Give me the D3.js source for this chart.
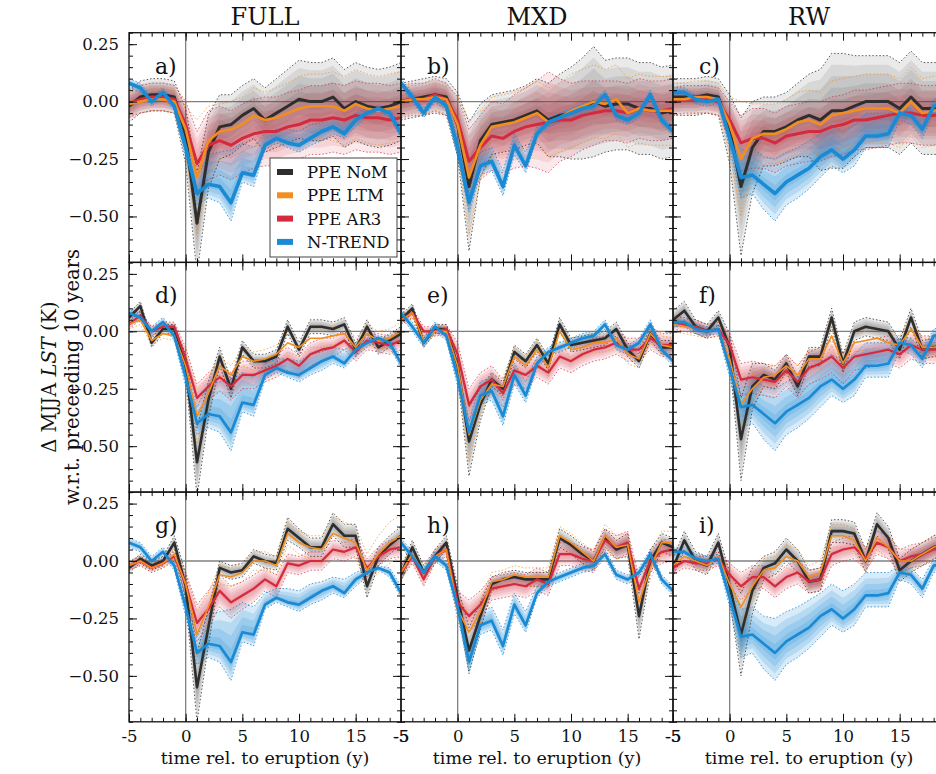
<!DOCTYPE html>
<html>
<head>
<meta charset="utf-8">
<script src="https://cdn.jsdelivr.net/npm/d3@7"></script>
<style>
  body { margin: 0; background: #fff; }
  svg { display: block; font-family: "DejaVu Serif", serif; }
</style>
</head>
<body>
<svg id="chart"></svg>
<script>
// figure size
const viewWidth = 936;
const viewHeight = 774;

// years relative to eruption
const years = [-5, -4, -3, -2, -1, 0, 1, 2, 3, 4, 5, 6, 7, 8, 9, 10, 11, 12, 13, 14, 15, 16, 17, 18, 19];
const columns = ["FULL", "MXD", "RW"];
const seriesNames = ["PPE NoM", "PPE LTM", "PPE AR3", "N-TREND"];
const xTicks = [-5, 0, 5, 10, 15];
const yTicks = [-0.5, -0.25, 0, 0.25];

// N-TREND reconstruction, one per column (median, lower, upper)
const ntFull   = [0.08, 0.06, 0.00, 0.04, -0.02, -0.20, -0.40, -0.36, -0.37, -0.44, -0.31, -0.32, -0.19, -0.16, -0.18, -0.19, -0.16, -0.13, -0.11, -0.14, -0.08, -0.05, -0.03, -0.05, -0.14];
const ntFullLo = [0.06, 0.04, -0.02, 0.02, -0.04, -0.24, -0.45, -0.42, -0.44, -0.52, -0.35, -0.37, -0.21, -0.18, -0.20, -0.22, -0.19, -0.17, -0.14, -0.16, -0.11, -0.07, -0.04, -0.07, -0.16];
const ntFullHi = [0.10, 0.08, 0.02, 0.06, 0.00, -0.15, -0.33, -0.23, -0.22, -0.21, -0.18, -0.20, -0.14, -0.12, -0.12, -0.13, -0.10, -0.09, -0.07, -0.08, -0.05, -0.03, -0.02, -0.03, -0.11];
const ntMxd    = [0.08, 0.02, -0.05, 0.02, -0.02, -0.20, -0.44, -0.28, -0.26, -0.37, -0.19, -0.28, -0.14, -0.09, -0.07, -0.05, -0.03, -0.02, 0.03, -0.06, -0.08, -0.05, 0.03, -0.08, -0.13];
const ntMxdLo  = [0.06, 0.00, -0.07, 0.00, -0.04, -0.24, -0.48, -0.32, -0.30, -0.41, -0.23, -0.31, -0.16, -0.11, -0.09, -0.07, -0.05, -0.04, 0.01, -0.08, -0.10, -0.07, 0.01, -0.10, -0.15];
const ntMxdHi  = [0.10, 0.04, -0.03, 0.04, 0.00, -0.16, -0.39, -0.22, -0.20, -0.30, -0.14, -0.22, -0.11, -0.07, -0.05, -0.03, -0.01, 0.00, 0.05, -0.04, -0.06, -0.03, 0.05, -0.06, -0.11];
const ntRw     = [0.04, 0.04, 0.01, 0.00, 0.01, -0.16, -0.33, -0.32, -0.36, -0.40, -0.35, -0.32, -0.29, -0.24, -0.21, -0.25, -0.21, -0.15, -0.15, -0.14, -0.05, -0.06, -0.12, -0.02, -0.01];
const ntRwLo   = [0.02, 0.02, -0.01, -0.02, -0.01, -0.20, -0.42, -0.40, -0.47, -0.52, -0.45, -0.42, -0.38, -0.33, -0.28, -0.31, -0.28, -0.20, -0.20, -0.20, -0.08, -0.10, -0.16, -0.05, -0.04];
const ntRwHi   = [0.06, 0.06, 0.03, 0.02, 0.03, -0.12, -0.21, -0.20, -0.24, -0.25, -0.22, -0.20, -0.17, -0.14, -0.10, -0.13, -0.10, -0.05, -0.05, -0.05, -0.02, -0.03, -0.08, 0.01, 0.02];

// PPE ensembles: median and envelope half width, per panel
const nomA   = [-0.02, 0.02, 0.03, 0.03, 0.02, -0.15, -0.53, -0.22, -0.11, -0.10, -0.06, -0.03, -0.08, -0.05, -0.02, 0.01, 0.00, 0.00, 0.02, -0.03, 0.00, -0.02, -0.03, -0.02, 0.00];
const nomSdA = [0.07, 0.07, 0.07, 0.07, 0.07, 0.12, 0.22, 0.16, 0.14, 0.13, 0.13, 0.13, 0.14, 0.15, 0.16, 0.17, 0.17, 0.17, 0.17, 0.17, 0.17, 0.17, 0.17, 0.17, 0.17];
const ltmA   = [-0.01, 0.00, 0.01, 0.01, 0.00, -0.12, -0.33, -0.17, -0.13, -0.12, -0.10, -0.06, -0.08, -0.07, -0.05, -0.03, -0.02, -0.02, -0.02, -0.04, -0.01, -0.03, -0.04, -0.03, -0.02];
const ltmSdA = [0.05, 0.05, 0.05, 0.05, 0.05, 0.10, 0.25, 0.15, 0.12, 0.12, 0.12, 0.12, 0.12, 0.13, 0.13, 0.14, 0.14, 0.14, 0.15, 0.15, 0.15, 0.15, 0.15, 0.15, 0.15];
const ar3A   = [-0.01, 0.01, 0.02, 0.02, 0.01, -0.10, -0.27, -0.19, -0.17, -0.19, -0.16, -0.14, -0.13, -0.13, -0.11, -0.10, -0.08, -0.08, -0.07, -0.08, -0.06, -0.07, -0.07, -0.08, -0.07];
const ar3SdA = [0.06, 0.06, 0.06, 0.06, 0.06, 0.10, 0.14, 0.15, 0.15, 0.15, 0.15, 0.15, 0.15, 0.15, 0.15, 0.15, 0.15, 0.15, 0.15, 0.15, 0.15, 0.15, 0.15, 0.15, 0.15];

const nomB   = [0.00, 0.01, 0.02, 0.03, 0.02, -0.10, -0.37, -0.17, -0.10, -0.09, -0.08, -0.06, -0.04, -0.08, -0.06, -0.05, -0.03, 0.00, -0.02, -0.01, -0.01, -0.03, -0.03, -0.05, -0.04];
const nomSdB = [0.08, 0.08, 0.08, 0.08, 0.08, 0.14, 0.28, 0.16, 0.13, 0.13, 0.13, 0.13, 0.14, 0.16, 0.18, 0.20, 0.22, 0.24, 0.20, 0.20, 0.20, 0.20, 0.20, 0.20, 0.20];
const ltmB   = [0.00, 0.01, 0.01, 0.02, 0.01, -0.10, -0.33, -0.19, -0.11, -0.10, -0.09, -0.07, -0.05, -0.09, -0.07, -0.04, -0.02, 0.00, -0.01, 0.01, -0.05, -0.03, -0.04, -0.04, -0.04];
const ltmSdB = [0.06, 0.06, 0.06, 0.06, 0.06, 0.12, 0.25, 0.15, 0.13, 0.13, 0.13, 0.13, 0.14, 0.15, 0.15, 0.16, 0.16, 0.16, 0.15, 0.15, 0.15, 0.15, 0.15, 0.15, 0.15];
const ar3B   = [0.00, 0.01, 0.01, 0.03, 0.01, -0.08, -0.26, -0.20, -0.15, -0.16, -0.13, -0.11, -0.10, -0.09, -0.08, -0.08, -0.06, -0.05, -0.04, -0.04, -0.05, -0.03, -0.04, -0.04, -0.03];
const ar3SdB = [0.07, 0.07, 0.07, 0.07, 0.07, 0.10, 0.14, 0.14, 0.15, 0.15, 0.16, 0.17, 0.19, 0.22, 0.18, 0.16, 0.15, 0.14, 0.13, 0.13, 0.13, 0.13, 0.13, 0.13, 0.13];

const nomC   = [0.02, 0.02, 0.02, 0.03, 0.02, -0.12, -0.37, -0.20, -0.13, -0.13, -0.11, -0.08, -0.06, -0.08, -0.04, -0.04, -0.02, 0.00, 0.00, 0.00, -0.03, 0.02, -0.03, -0.03, -0.03];
const nomSdC = [0.08, 0.08, 0.08, 0.08, 0.08, 0.15, 0.30, 0.20, 0.15, 0.15, 0.15, 0.16, 0.18, 0.22, 0.25, 0.25, 0.22, 0.20, 0.20, 0.20, 0.20, 0.20, 0.20, 0.20, 0.20];
const ltmC   = [0.01, 0.01, 0.02, 0.02, 0.01, -0.10, -0.25, -0.16, -0.14, -0.14, -0.12, -0.09, -0.08, -0.10, -0.06, -0.05, -0.04, -0.03, -0.03, -0.03, -0.05, 0.00, -0.05, -0.04, -0.03];
const ltmSdC = [0.07, 0.07, 0.07, 0.07, 0.07, 0.12, 0.25, 0.15, 0.13, 0.13, 0.13, 0.13, 0.13, 0.14, 0.15, 0.15, 0.15, 0.15, 0.15, 0.15, 0.15, 0.15, 0.15, 0.15, 0.15];
const ar3C   = [0.00, 0.01, 0.01, 0.01, 0.00, -0.08, -0.18, -0.16, -0.16, -0.18, -0.15, -0.14, -0.13, -0.13, -0.11, -0.10, -0.08, -0.08, -0.07, -0.06, -0.05, -0.05, -0.06, -0.06, -0.05];
const ar3SdC = [0.06, 0.06, 0.06, 0.06, 0.06, 0.08, 0.12, 0.13, 0.13, 0.13, 0.13, 0.13, 0.13, 0.13, 0.13, 0.13, 0.13, 0.13, 0.13, 0.13, 0.13, 0.13, 0.13, 0.13, 0.13];

const nomD   = [0.06, 0.11, -0.05, 0.01, 0.01, -0.15, -0.57, -0.30, -0.11, -0.25, -0.07, -0.13, -0.13, -0.11, 0.02, -0.08, 0.02, 0.02, 0.01, 0.03, -0.08, 0.02, -0.07, -0.04, -0.01];
const nomSdD = [0.02, 0.02, 0.02, 0.02, 0.02, 0.05, 0.15, 0.08, 0.04, 0.04, 0.03, 0.03, 0.03, 0.03, 0.03, 0.03, 0.03, 0.03, 0.03, 0.03, 0.03, 0.03, 0.03, 0.03, 0.03];
const ltmD   = [0.03, 0.05, -0.04, -0.01, -0.02, -0.15, -0.37, -0.27, -0.15, -0.19, -0.11, -0.13, -0.12, -0.10, -0.05, -0.07, -0.03, -0.03, -0.02, -0.01, -0.07, -0.01, -0.04, -0.03, 0.00];
const ltmSdD = [0.02, 0.02, 0.02, 0.02, 0.02, 0.05, 0.12, 0.07, 0.04, 0.04, 0.04, 0.04, 0.04, 0.04, 0.04, 0.04, 0.04, 0.04, 0.04, 0.04, 0.04, 0.04, 0.04, 0.04, 0.04];
const ar3D   = [0.03, 0.07, 0.00, 0.02, 0.02, -0.12, -0.29, -0.24, -0.20, -0.24, -0.19, -0.19, -0.17, -0.15, -0.12, -0.15, -0.10, -0.08, -0.07, -0.04, -0.09, -0.04, -0.05, -0.06, -0.04];
const ar3SdD = [0.02, 0.02, 0.02, 0.02, 0.02, 0.05, 0.06, 0.06, 0.06, 0.06, 0.06, 0.06, 0.05, 0.05, 0.05, 0.05, 0.05, 0.05, 0.04, 0.04, 0.04, 0.04, 0.04, 0.04, 0.04];

const nomE   = [0.05, 0.10, -0.05, 0.01, 0.01, -0.15, -0.48, -0.32, -0.21, -0.25, -0.09, -0.13, -0.06, -0.14, 0.03, -0.06, -0.05, -0.04, -0.03, 0.01, -0.08, -0.13, -0.01, -0.07, -0.07];
const nomSdE = [0.02, 0.02, 0.02, 0.02, 0.02, 0.05, 0.15, 0.07, 0.03, 0.03, 0.03, 0.03, 0.03, 0.03, 0.03, 0.03, 0.03, 0.03, 0.03, 0.03, 0.03, 0.03, 0.03, 0.03, 0.03];
const ltmE   = [0.05, 0.08, -0.04, 0.00, 0.00, -0.15, -0.45, -0.30, -0.23, -0.24, -0.11, -0.15, -0.08, -0.16, 0.00, -0.08, -0.07, -0.05, -0.05, -0.03, -0.10, -0.12, -0.01, -0.06, -0.07];
const ltmSdE = [0.02, 0.02, 0.02, 0.02, 0.02, 0.05, 0.12, 0.06, 0.04, 0.04, 0.04, 0.04, 0.04, 0.04, 0.04, 0.04, 0.04, 0.04, 0.04, 0.04, 0.04, 0.04, 0.04, 0.04, 0.04];
const ar3E   = [0.05, 0.08, 0.00, 0.00, 0.01, -0.10, -0.32, -0.24, -0.21, -0.27, -0.17, -0.19, -0.15, -0.18, -0.11, -0.13, -0.10, -0.08, -0.07, -0.05, -0.08, -0.08, -0.03, -0.06, -0.06];
const ar3SdE = [0.02, 0.02, 0.02, 0.02, 0.02, 0.05, 0.07, 0.06, 0.06, 0.06, 0.06, 0.06, 0.05, 0.05, 0.05, 0.05, 0.05, 0.05, 0.05, 0.05, 0.05, 0.05, 0.05, 0.05, 0.05];

const nomF   = [0.05, 0.09, 0.02, 0.00, 0.06, -0.07, -0.47, -0.24, -0.19, -0.21, -0.14, -0.24, -0.11, -0.11, 0.06, -0.14, 0.00, 0.02, 0.01, 0.00, -0.08, 0.06, -0.08, -0.07, -0.06];
const nomSdF = [0.04, 0.04, 0.03, 0.03, 0.03, 0.06, 0.18, 0.10, 0.05, 0.04, 0.04, 0.04, 0.04, 0.04, 0.04, 0.04, 0.04, 0.04, 0.04, 0.04, 0.04, 0.04, 0.04, 0.04, 0.04];
const ltmF   = [0.03, 0.02, 0.01, 0.00, 0.01, -0.12, -0.32, -0.25, -0.20, -0.19, -0.15, -0.19, -0.12, -0.12, -0.02, -0.14, -0.05, -0.04, -0.03, -0.05, -0.06, 0.01, -0.07, -0.07, -0.06];
const ltmSdF = [0.03, 0.03, 0.03, 0.03, 0.03, 0.05, 0.10, 0.06, 0.04, 0.04, 0.04, 0.04, 0.04, 0.04, 0.04, 0.04, 0.04, 0.04, 0.04, 0.04, 0.04, 0.04, 0.04, 0.04, 0.04];
const ar3F   = [0.04, 0.03, 0.02, 0.00, 0.01, -0.06, -0.21, -0.20, -0.21, -0.22, -0.17, -0.22, -0.16, -0.14, -0.11, -0.16, -0.11, -0.10, -0.09, -0.08, -0.10, -0.06, -0.08, -0.08, -0.08];
const ar3SdF = [0.03, 0.03, 0.03, 0.03, 0.03, 0.05, 0.07, 0.07, 0.07, 0.07, 0.07, 0.07, 0.07, 0.07, 0.07, 0.07, 0.06, 0.06, 0.06, 0.06, 0.06, 0.06, 0.06, 0.06, 0.06];

const nomG   = [-0.03, 0.01, -0.02, 0.00, 0.08, -0.11, -0.55, -0.29, -0.03, -0.05, -0.04, 0.02, 0.00, -0.01, 0.14, 0.10, 0.06, 0.06, 0.16, 0.11, 0.11, -0.11, 0.02, 0.07, 0.11];
const nomSdG = [0.02, 0.02, 0.02, 0.02, 0.03, 0.06, 0.15, 0.08, 0.03, 0.03, 0.03, 0.03, 0.03, 0.03, 0.05, 0.04, 0.04, 0.04, 0.05, 0.05, 0.05, 0.05, 0.04, 0.04, 0.04];
const ltmG   = [-0.02, 0.00, -0.03, -0.01, 0.03, -0.10, -0.32, -0.20, -0.06, -0.07, -0.05, 0.00, 0.00, -0.02, 0.12, 0.08, 0.06, 0.05, 0.12, 0.10, 0.08, -0.04, 0.03, 0.08, 0.11];
const ltmSdG = [0.02, 0.02, 0.02, 0.02, 0.02, 0.05, 0.10, 0.06, 0.04, 0.04, 0.04, 0.04, 0.04, 0.04, 0.05, 0.05, 0.05, 0.06, 0.07, 0.07, 0.07, 0.07, 0.08, 0.09, 0.09];
const ar3G   = [-0.02, 0.00, -0.03, -0.01, 0.02, -0.10, -0.27, -0.21, -0.13, -0.18, -0.15, -0.12, -0.08, -0.11, -0.01, -0.02, 0.00, 0.00, 0.05, 0.04, 0.06, -0.03, 0.02, 0.05, 0.06];
const ar3SdG = [0.02, 0.02, 0.02, 0.02, 0.02, 0.05, 0.08, 0.08, 0.07, 0.07, 0.06, 0.06, 0.05, 0.05, 0.04, 0.04, 0.04, 0.04, 0.04, 0.04, 0.04, 0.04, 0.04, 0.04, 0.04];

const nomH   = [-0.06, 0.06, -0.05, 0.02, 0.08, -0.16, -0.39, -0.24, -0.10, -0.08, -0.07, -0.08, -0.08, -0.08, 0.10, 0.07, 0.03, 0.00, 0.10, 0.05, 0.07, -0.24, 0.00, 0.08, 0.06];
const nomSdH = [0.03, 0.03, 0.03, 0.03, 0.03, 0.05, 0.10, 0.06, 0.03, 0.03, 0.03, 0.03, 0.03, 0.03, 0.04, 0.04, 0.04, 0.04, 0.04, 0.04, 0.05, 0.10, 0.05, 0.04, 0.04];
const ltmH   = [-0.05, 0.03, -0.05, 0.02, 0.05, -0.21, -0.31, -0.22, -0.09, -0.08, -0.06, -0.07, -0.07, -0.07, 0.11, 0.08, 0.04, 0.00, 0.11, 0.06, 0.07, -0.18, -0.03, 0.08, 0.08];
const ltmSdH = [0.03, 0.03, 0.03, 0.03, 0.03, 0.05, 0.08, 0.05, 0.04, 0.04, 0.04, 0.04, 0.04, 0.04, 0.04, 0.04, 0.04, 0.04, 0.05, 0.05, 0.05, 0.05, 0.05, 0.05, 0.05];
const ar3H   = [-0.05, 0.02, -0.08, 0.02, 0.05, -0.18, -0.24, -0.19, -0.12, -0.11, -0.10, -0.11, -0.08, -0.10, 0.03, 0.03, 0.01, 0.00, 0.09, 0.06, 0.08, -0.12, 0.00, 0.04, 0.05];
const ar3SdH = [0.03, 0.03, 0.03, 0.03, 0.03, 0.05, 0.07, 0.06, 0.05, 0.05, 0.05, 0.05, 0.05, 0.05, 0.05, 0.05, 0.05, 0.05, 0.05, 0.05, 0.05, 0.05, 0.05, 0.05, 0.05];

const nomI   = [-0.03, 0.09, 0.00, -0.02, 0.08, -0.11, -0.32, -0.13, -0.03, -0.01, 0.05, 0.00, -0.09, -0.08, 0.13, 0.13, 0.12, 0.00, 0.16, 0.10, -0.04, 0.00, 0.03, 0.06, 0.08];
const nomSdI = [0.04, 0.04, 0.04, 0.04, 0.04, 0.06, 0.18, 0.10, 0.05, 0.05, 0.05, 0.05, 0.05, 0.05, 0.05, 0.05, 0.05, 0.05, 0.05, 0.05, 0.05, 0.05, 0.05, 0.05, 0.05];
const ltmI   = [-0.02, 0.02, 0.00, -0.02, 0.02, -0.10, -0.20, -0.11, -0.04, -0.03, 0.02, 0.00, -0.07, -0.05, 0.11, 0.11, 0.09, 0.00, 0.10, 0.06, 0.00, 0.00, 0.03, 0.06, 0.08];
const ltmSdI = [0.03, 0.03, 0.03, 0.03, 0.03, 0.05, 0.07, 0.05, 0.05, 0.05, 0.05, 0.05, 0.05, 0.05, 0.05, 0.05, 0.05, 0.05, 0.05, 0.05, 0.05, 0.05, 0.05, 0.05, 0.05];
const ar3I   = [-0.03, 0.00, -0.01, -0.01, 0.01, -0.06, -0.11, -0.07, -0.07, -0.11, -0.07, -0.05, -0.09, -0.08, 0.03, 0.05, 0.06, 0.01, 0.08, 0.06, 0.00, 0.02, 0.03, 0.05, 0.06];
const ar3SdI = [0.03, 0.03, 0.03, 0.03, 0.03, 0.05, 0.06, 0.05, 0.05, 0.05, 0.05, 0.05, 0.05, 0.05, 0.05, 0.05, 0.05, 0.05, 0.05, 0.05, 0.05, 0.05, 0.05, 0.05, 0.05];

// colors
const colNoM = "#2e2e2e";
const colLTM = "#f28e1e";
const colAR3 = "#d42a3e";
const colNT = "#1a8ad4";

// panel table built from the arrays
const ntByCol = [
    { med: ntFull, lo: ntFullLo, hi: ntFullHi },
    { med: ntMxd, lo: ntMxdLo, hi: ntMxdHi },
    { med: ntRw, lo: ntRwLo, hi: ntRwHi }
];
const panels = [
    { label: "a)", row: 0, col: 0, nom: nomA, nomSd: nomSdA, ltm: ltmA, ltmSd: ltmSdA, ar3: ar3A, ar3Sd: ar3SdA },
    { label: "b)", row: 0, col: 1, nom: nomB, nomSd: nomSdB, ltm: ltmB, ltmSd: ltmSdB, ar3: ar3B, ar3Sd: ar3SdB },
    { label: "c)", row: 0, col: 2, nom: nomC, nomSd: nomSdC, ltm: ltmC, ltmSd: ltmSdC, ar3: ar3C, ar3Sd: ar3SdC },
    { label: "d)", row: 1, col: 0, nom: nomD, nomSd: nomSdD, ltm: ltmD, ltmSd: ltmSdD, ar3: ar3D, ar3Sd: ar3SdD },
    { label: "e)", row: 1, col: 1, nom: nomE, nomSd: nomSdE, ltm: ltmE, ltmSd: ltmSdE, ar3: ar3E, ar3Sd: ar3SdE },
    { label: "f)", row: 1, col: 2, nom: nomF, nomSd: nomSdF, ltm: ltmF, ltmSd: ltmSdF, ar3: ar3F, ar3Sd: ar3SdF },
    { label: "g)", row: 2, col: 0, nom: nomG, nomSd: nomSdG, ltm: ltmG, ltmSd: ltmSdG, ar3: ar3G, ar3Sd: ar3SdG },
    { label: "h)", row: 2, col: 1, nom: nomH, nomSd: nomSdH, ltm: ltmH, ltmSd: ltmSdH, ar3: ar3H, ar3Sd: ar3SdH },
    { label: "i)", row: 2, col: 2, nom: nomI, nomSd: nomSdI, ltm: ltmI, ltmSd: ltmSdI, ar3: ar3I, ar3Sd: ar3SdI }
];

// layout
const colLeft = [129, 401, 673];
const rowTop = [32.7, 262.4, 492.1];
const panelW = 272;
const panelH = 229.7;
const tickFont = 16.5;

const svg = d3.select("#chart")
    .attr("width", viewWidth)
    .attr("height", viewHeight);

const x = d3.scaleLinear().domain([-5, 19]).range([0, panelW]);
const y = d3.scaleLinear().domain([-0.7, 0.3]).range([panelH, 0]);

const bandFracs = [1, 0.8, 0.6, 0.4, 0.2];

function drawBands(g, med, lo, hi, color, opacity, fracs) {
    fracs.forEach(f => {
        const area = d3.area()
            .x((d, i) => x(years[i]))
            .y0((d, i) => y(med[i] + f * (lo[i] - med[i])))
            .y1((d, i) => y(med[i] + f * (hi[i] - med[i])));
        g.append("path").datum(med)
            .attr("d", area)
            .attr("fill", color)
            .attr("fill-opacity", opacity);
    });
}

function drawLine(g, vals, color, width, dash, opacity) {
    const line = d3.line().x((d, i) => x(years[i])).y(d => y(d));
    g.append("path").datum(vals)
        .attr("d", line)
        .attr("fill", "none")
        .attr("stroke", color)
        .attr("stroke-width", width)
        .attr("stroke-linejoin", "round")
        .attr("stroke-dasharray", dash || null)
        .attr("stroke-opacity", opacity || 1);
}

panels.forEach((p, k) => {
    const g = svg.append("g")
        .attr("transform", `translate(${colLeft[p.col]},${rowTop[p.row]})`);

    const clipId = "clip" + k;
    g.append("clipPath").attr("id", clipId)
        .append("rect").attr("width", panelW).attr("height", panelH);

    const plot = g.append("g").attr("clip-path", `url(#${clipId})`);

    // zero lines
    plot.append("line")
        .attr("x1", 0).attr("x2", panelW)
        .attr("y1", y(0)).attr("y2", y(0))
        .attr("stroke", "#808080").attr("stroke-width", 1.3);
    plot.append("line")
        .attr("x1", x(0)).attr("x2", x(0))
        .attr("y1", 0).attr("y2", panelH)
        .attr("stroke", "#808080").attr("stroke-width", 1.3);

    const nt = ntByCol[p.col];
    const nomLo = p.nom.map((v, i) => v - p.nomSd[i]);
    const nomHi = p.nom.map((v, i) => v + p.nomSd[i]);
    const ltmLo = p.ltm.map((v, i) => v - p.ltmSd[i]);
    const ltmHi = p.ltm.map((v, i) => v + p.ltmSd[i]);
    const ar3Lo = p.ar3.map((v, i) => v - p.ar3Sd[i]);
    const ar3Hi = p.ar3.map((v, i) => v + p.ar3Sd[i]);

    // shaded ranges
    drawBands(plot, p.nom, nomLo, nomHi, "#3c3c3c", 0.11, bandFracs);
    drawBands(plot, p.ar3, ar3Lo, ar3Hi, colAR3, 0.11, bandFracs);
    drawBands(plot, nt.med, nt.lo, nt.hi, colNT, 0.17, [1, 0.75, 0.5, 0.25]);

    // dotted envelopes
    const dots = "1.5,2";
    drawLine(plot, nomLo, "#333", 1, dots, 0.8);
    drawLine(plot, nomHi, "#333", 1, dots, 0.8);
    drawLine(plot, ltmLo, colLTM, 1, dots, 0.7);
    drawLine(plot, ltmHi, colLTM, 1, dots, 0.7);
    drawLine(plot, ar3Lo, colAR3, 1, dots, 0.7);
    drawLine(plot, ar3Hi, colAR3, 1, dots, 0.7);
    drawLine(plot, nt.lo, colNT, 1, dots, 0.8);
    drawLine(plot, nt.hi, colNT, 1, dots, 0.8);

    // medians
    const thick = p.row === 0;
    drawLine(plot, p.nom, colNoM, thick ? 3 : 2.6);
    drawLine(plot, p.ar3, colAR3, thick ? 3 : 2.2);
    drawLine(plot, p.ltm, colLTM, thick ? 2.6 : 1.6);
    drawLine(plot, nt.med, colNT, thick ? 3.6 : 2.7);

    // axes, ticks pointing inward on all sides
    const minorX = years;
    const minorY = d3.range(-14, 7).map(v => v / 20);
    const isBottom = p.row === 2;
    const isLeft = p.col === 0;

    const axes = [
        { ax: d3.axisBottom(x), tf: `translate(0,${panelH})`, labels: isBottom, vals: xTicks, minor: minorX, fmt: d => String(d), pad: 8 },
        { ax: d3.axisTop(x), tf: "translate(0,0)", labels: false, vals: xTicks, minor: minorX, pad: 8 },
        { ax: d3.axisLeft(y), tf: "translate(0,0)", labels: isLeft, vals: yTicks, minor: minorY, fmt: d3.format(".2f"), pad: 10 },
        { ax: d3.axisRight(y), tf: `translate(${panelW},0)`, labels: false, vals: yTicks, minor: minorY, pad: 10 }
    ];
    axes.forEach(a => {
        g.append("g").attr("transform", a.tf)
            .call(a.ax.tickValues(a.minor).tickSize(-4).tickFormat(""))
            .call(s => s.select(".domain").remove());
        const major = g.append("g").attr("transform", a.tf)
            .call(a.ax.tickValues(a.vals).tickSizeInner(-8).tickSizeOuter(0).tickPadding(a.pad)
                .tickFormat(a.labels ? a.fmt : ""))
            .call(s => s.select(".domain").remove());
        major.selectAll("text")
            .attr("font-family", "DejaVu Serif, serif")
            .attr("font-size", tickFont)
            .attr("fill", "#111");
        g.selectAll(".tick line").attr("stroke", "#111").attr("stroke-width", 1);
    });

    // frame
    g.append("rect")
        .attr("width", panelW).attr("height", panelH)
        .attr("fill", "none").attr("stroke", "#111").attr("stroke-width", 1.3);

    // panel letter
    g.append("text")
        .attr("x", 26).attr("y", 41)
        .attr("font-size", 22)
        .attr("fill", "#111")
        .text(p.label);
});

// extra "-5" labels at the left edge of middle and right column
[1, 2].forEach(c => {
    svg.append("text")
        .attr("x", colLeft[c] + x(-5))
        .attr("y", rowTop[2] + panelH + 8 + tickFont * 0.71)
        .attr("dy", "0.0em")
        .attr("text-anchor", "middle")
        .attr("font-size", tickFont)
        .attr("fill", "#111")
        .text("-5");
});

// column titles and x labels
columns.forEach((name, c) => {
    svg.append("text")
        .attr("x", colLeft[c] + panelW / 2)
        .attr("y", 25)
        .attr("text-anchor", "middle")
        .attr("font-size", 24)
        .attr("fill", "#111")
        .text(name);

    svg.append("text")
        .attr("x", colLeft[c] + panelW / 2)
        .attr("y", 764)
        .attr("text-anchor", "middle")
        .attr("font-size", 17.5)
        .attr("fill", "#111")
        .text("time rel. to eruption (y)");
});

// y axis label (two lines)
const yLab = svg.append("g")
    .attr("transform", `translate(56,377) rotate(-90)`);
const l1 = yLab.append("text")
    .attr("text-anchor", "middle")
    .attr("font-size", 19.5)
    .attr("fill", "#111");
l1.append("tspan").text("\u0394 MJJA ");
l1.append("tspan").attr("font-style", "italic").text("LST");
l1.append("tspan").text(" (K)");
yLab.append("text")
    .attr("y", 23)
    .attr("text-anchor", "middle")
    .attr("font-size", 19.5)
    .attr("fill", "#111")
    .text("w.r.t. preceeding 10 years");

// legend
const legend = svg.append("g").attr("transform", "translate(270,158)");
legend.append("rect")
    .attr("width", 127).attr("height", 99)
    .attr("fill", "white")
    .attr("stroke", "#444").attr("stroke-width", 1);
const legColors = [colNoM, colLTM, colAR3, colNT];
seriesNames.forEach((name, i) => {
    const ly = 14 + i * 23.3;
    legend.append("rect")
        .attr("x", 7).attr("y", ly - 3)
        .attr("width", 16).attr("height", 6)
        .attr("fill", legColors[i]);
    legend.append("text")
        .attr("x", 37).attr("y", ly + 6)
        .attr("font-size", 16.5)
        .attr("fill", "#111")
        .text(name);
});
</script>
</body>
</html>
